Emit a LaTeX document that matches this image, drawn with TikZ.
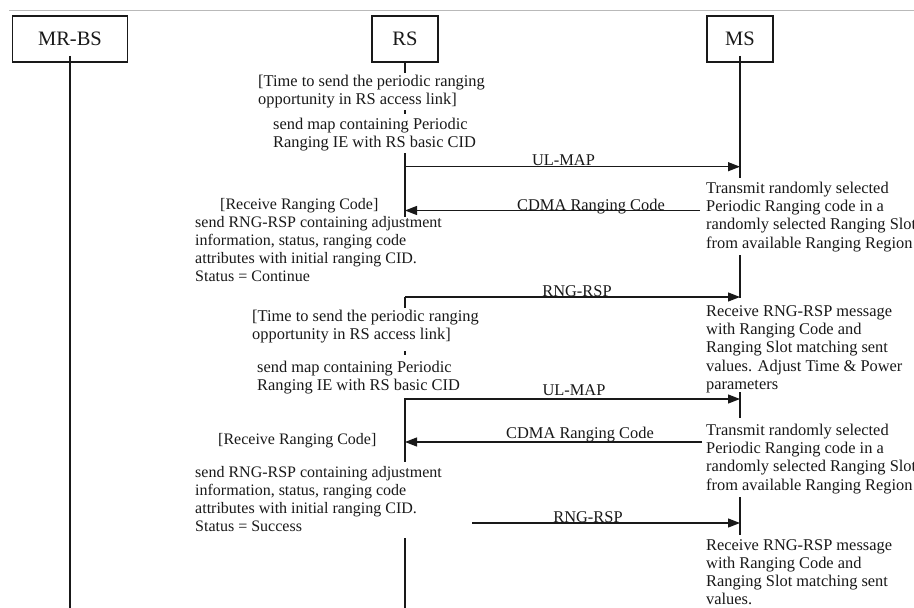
\documentclass[tikz,border=0pt]{standalone}
\usepackage{fontspec}
\setmainfont{Liberation Serif}
\usetikzlibrary{arrows.meta}
\definecolor{ink}{RGB}{25,25,25}
\definecolor{rulecol}{RGB}{185,185,185}
% left-aligned block of lines whose baseline is the first line
\newcommand{\txtlines}[1]{\begin{tabular}[t]{@{}l@{}}#1\end{tabular}}

\begin{document}
\begin{tikzpicture}[x=1pt,y=-1pt,
  actor/.style={draw=ink, line width=1.7pt, minimum height=46pt, inner sep=0pt,
    text=ink, font=\fontsize{20.5}{24}\selectfont},
  lifeline/.style={draw=ink, line width=1.8pt},
  msg/.style={draw=ink, line width=1.2pt, -{Triangle[length=12pt,width=9pt]}},
  note/.style={anchor=base west, inner sep=0pt, text=ink,
    font=\fontsize{16.4}{18.4}\selectfont},
  smallnote/.style={note, font=\fontsize{16}{18.3}\selectfont},
  lbl/.style={anchor=base, inner sep=0pt, text=ink,
    font=\fontsize{16.4}{18.4}\selectfont},
]
\path[use as bounding box] (0,0) rectangle (914,608);
\clip (0,0) rectangle (914,608);
\fill[white] (0,0) rectangle (914,608);

% thin rule along the top edge
\coordinate (ruleL) at (9,10.5);
\coordinate (ruleR) at (914,10.5);
\draw[rulecol, line width=1pt] (ruleL) -- (ruleR);

% participants
\node[actor, minimum width=115pt] (mrbs) at (70,39) {MR-BS};
\node[actor, minimum width=66pt]  (rs)   at (405,39) {RS};
\node[actor, minimum width=66pt]  (ms)   at (740,39) {MS};

% lifeline points
\coordinate (mrbsEnd) at (70,608);
\coordinate (rs1) at (405,73);
\coordinate (rsDotA) at (405,110);
\coordinate (rsDotB) at (405,113.5);
\coordinate (rs2) at (405,153);
\coordinate (rsUL1) at (405,166.7);
\coordinate (rsCD1) at (405,210.5);
\coordinate (rs3) at (405,217);
\coordinate (rsRR1) at (405,297);
\coordinate (rs4) at (405,308);
\coordinate (rsDotC) at (405,351);
\coordinate (rsDotD) at (405,355);
\coordinate (rs5) at (405,398);
\coordinate (rsUL2) at (405,399);
\coordinate (rsCD2) at (405,442);
\coordinate (rs6) at (405,462);
\coordinate (rs7) at (405,538);
\coordinate (rsEnd) at (405,608);

\coordinate (msUL1) at (740,166.7);
\coordinate (ms1) at (740,178);
\coordinate (ms2) at (740,255);
\coordinate (msRR1) at (740,297);
\coordinate (ms3) at (740,298);
\coordinate (ms4) at (740,392);
\coordinate (msUL2) at (740,399);
\coordinate (ms5) at (740,418);
\coordinate (ms6) at (740,497);
\coordinate (msRR2) at (740,523);
\coordinate (ms7) at (740,535);

% free ends of the messages leaving from the notes
\coordinate (cd1Start) at (700,210.5);
\coordinate (cd2Start) at (702,442);
\coordinate (rr2Start) at (472,523);

% lifelines
\draw[lifeline] ([yshift=7pt]mrbs.south) -- (mrbsEnd);
\draw[lifeline] (rs.south) -- (rs1);
\draw[lifeline] (rsDotA) -- (rsDotB);
\draw[lifeline] (rs2) -- (rs3);
\draw[lifeline] (rsRR1) -- (rs4);
\draw[lifeline] (rsDotC) -- (rsDotD);
\draw[lifeline] (rs5) -- (rs6);
\draw[lifeline] (rs7) -- (rsEnd);
\draw[lifeline] ([yshift=7pt]ms.south) -- (ms1);
\draw[lifeline] (ms2) -- (ms3);
\draw[lifeline] (ms4) -- (ms5);
\draw[lifeline] (ms6) -- (ms7);

% messages
\draw[msg] (rsUL1) -- (msUL1);
\draw[msg] (cd1Start) -- (rsCD1);
\draw[msg] (rsRR1) -- (msRR1);
\draw[msg] (rsUL2) -- (msUL2);
\draw[msg] (cd2Start) -- (rsCD2);
\draw[msg] (rr2Start) -- (msRR2);

% message labels
\node[lbl] (lUL1) at (563.5,165) {UL-MAP};
\node[lbl] (lCD1) at (591,210) {CDMA Ranging Code};
\node[lbl] (lRR1) at (577,296) {RNG-RSP};
\node[lbl] (lUL2) at (574,395) {UL-MAP};
\node[lbl] (lCD2) at (580,438) {CDMA Ranging Code};
\node[lbl] (lRR2) at (588,522) {RNG-RSP};

% notes beside RS
\node[note] (tA1) at (258,86) {\txtlines{[Time to send the periodic ranging\\opportunity in RS access link]}};
\node[note] (tB1) at (273,129) {\txtlines{send map containing Periodic\\Ranging IE with RS basic CID}};
\node[smallnote] (tC1) at (220,209) {[Receive Ranging Code]};
\node[smallnote] (tS1) at (195,227) {\txtlines{send RNG-RSP containing adjustment\\information, status, ranging code\\attributes with initial ranging CID.\\Status = Continue}};
\node[note] (tA2) at (252,321) {\txtlines{[Time to send the periodic ranging\\opportunity in RS access link]}};
\node[note] (tB2) at (257,372) {\txtlines{send map containing Periodic\\Ranging IE with RS basic CID}};
\node[smallnote] (tC2) at (218,444) {[Receive Ranging Code]};
\node[smallnote] (tS2) at (195,477) {\txtlines{send RNG-RSP containing adjustment\\information, status, ranging code\\attributes with initial ranging CID.\\Status = Success}};

% notes beside MS
\node[note] (mT1) at (706,193) {\txtlines{Transmit randomly selected\\Periodic Ranging code in a\\randomly selected Ranging Slot\\from available Ranging Region}};
\node[note] (mR1) at (706,316) {\txtlines{Receive RNG-RSP message\\with Ranging Code and\\Ranging Slot matching sent\\values. Adjust Time \& Power\\parameters}};
\node[note] (mT2) at (706,435) {\txtlines{Transmit randomly selected\\Periodic Ranging code in a\\randomly selected Ranging Slot\\from available Ranging Region}};
\node[note, font=\fontsize{16.4}{18}\selectfont] (mR2) at (706,550) {\txtlines{Receive RNG-RSP message\\with Ranging Code and\\Ranging Slot matching sent\\values.}};
\end{tikzpicture}
\end{document}
